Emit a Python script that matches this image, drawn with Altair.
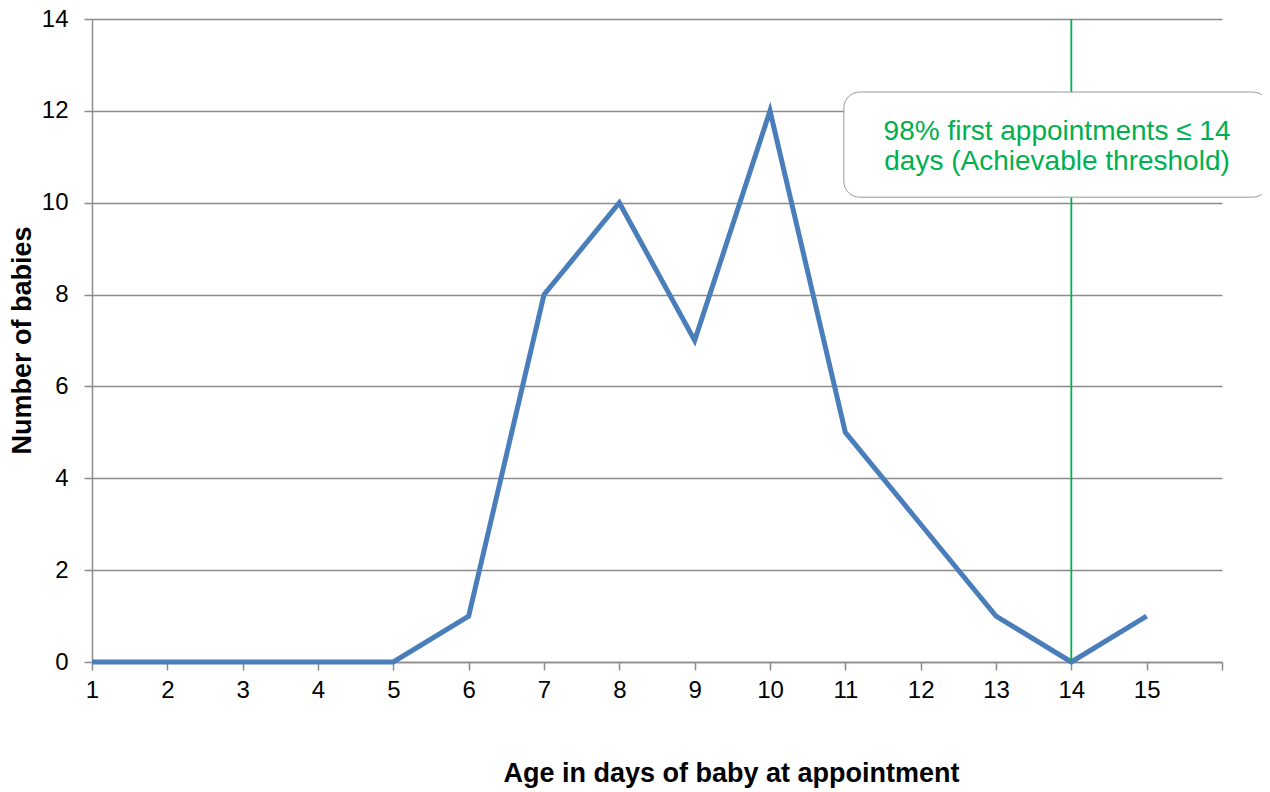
import altair as alt
import pandas as pd

days = list(range(1, 16))
babies = [0, 0, 0, 0, 0, 1, 8, 10, 7, 12, 5, 3, 1, 0, 1]
x_ticks = list(range(1, 17))
y_ticks = [0, 2, 4, 6, 8, 10, 12, 14]
threshold_day = 14
note_lines = ["98% first appointments \u2264 14", "days (Achievable threshold)"]
note_box = {"x": 10.98, "x2": 16.62, "y": 12.41, "y2": 10.12}
note_text_x = 13.81
note_text_y = [11.365, 10.71]

df = pd.DataFrame({"day": days, "babies": babies})

xs = alt.Scale(domain=[1, 16], nice=False, zero=False)
ys = alt.Scale(domain=[0, 14], nice=False)

FONT = "Liberation Sans"
GRID = "#8c8c8c"

line = alt.Chart(df).mark_line(color="#4A7EBB", strokeWidth=5, strokeJoin="miter").encode(
    x=alt.X("day:Q", scale=xs,
            axis=alt.Axis(values=x_ticks, format="d",
                          labelExpr="datum.value == 16 ? '' : datum.label",
                          labelFlush=False,
                          title="Age in days of baby at appointment",
                          titleX=639, titleY=111, titleBaseline="middle",
                          grid=False, tickSize=8, labelPadding=8,
                          domainColor=GRID, tickColor=GRID, domainWidth=1.5, tickWidth=1.5)),
    y=alt.Y("babies:Q", scale=ys,
            axis=alt.Axis(values=y_ticks, format="d", title="Number of babies",
                          labelFlush=False,
                          titleX=-70, titleY=321, titleBaseline="middle", titleAlign="center",
                          grid=True, gridColor=GRID, gridWidth=1.5,
                          tickSize=8, labelPadding=16,
                          domainColor=GRID, tickColor=GRID, domainWidth=1.5, tickWidth=1.5)),
)

vline = alt.Chart(pd.DataFrame({"x": [threshold_day], "y": [0], "y2": [14]})).mark_rule(
    color="#00B050", strokeWidth=1.8).encode(
    x=alt.X("x:Q", scale=xs), y=alt.Y("y:Q", scale=ys), y2="y2:Q")

box = alt.Chart(pd.DataFrame([note_box])).mark_rect(
    fill="white", stroke="#999999", strokeWidth=1, cornerRadius=16, clip=False).encode(
    x=alt.X("x:Q", scale=xs), x2="x2:Q", y=alt.Y("y:Q", scale=ys), y2="y2:Q")

txt = alt.Chart(pd.DataFrame({"x": [note_text_x] * 2, "y": note_text_y, "t": note_lines})).mark_text(
    color="#00B050", font=FONT, fontSize=28, align="center", baseline="alphabetic").encode(
    x=alt.X("x:Q", scale=xs), y=alt.Y("y:Q", scale=ys), text="t:N")

chart = alt.layer(line, vline, box, txt).properties(
    width=1130, height=643,
    autosize=alt.AutoSizeParams(type="none"),
    padding={"left": 84, "top": 11, "right": 40, "bottom": 130},
).configure_view(stroke=None).configure_axis(
    labelFont=FONT, titleFont=FONT, labelFontSize=24, titleFontSize=27,
    labelColor="black", titleColor="black", titleFontWeight="bold"
)

chart.save("out.html", embed_options={"renderer": "svg", "actions": False})
